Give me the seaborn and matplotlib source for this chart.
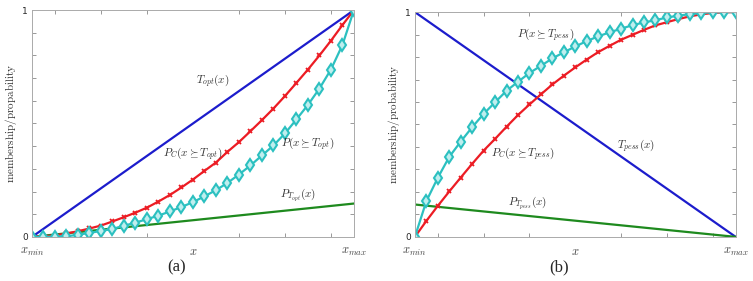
import matplotlib
matplotlib.use("Agg")
import matplotlib.pyplot as plt
import seaborn as sns
import numpy as np

sns.set_style("ticks")
plt.rcParams['mathtext.fontset'] = 'cm'
plt.rcParams['font.family'] = ['DejaVu Sans']

# shared x grid (29 sample points between x_min and x_max)
x_min, x_max = 0.05, 0.75
x_pts = np.linspace(x_min, x_max, 29)
x_ends = [x_min, x_max]

# panel (a): optimistic
t_opt = [0.0, 1.0]
p_t_opt = [0.0, 0.147]
pc_opt = [0, 0.003, 0.006, 0.015, 0.025, 0.037, 0.050, 0.068, 0.087, 0.107,
          0.129, 0.156, 0.185, 0.218, 0.253, 0.291, 0.328, 0.375, 0.418, 0.466,
          0.515, 0.566, 0.621, 0.679, 0.738, 0.800, 0.865, 0.934, 1.0]
p_opt = [0, 0, 0.001, 0.003, 0.009, 0.018, 0.026, 0.035, 0.049, 0.063,
         0.078, 0.094, 0.112, 0.132, 0.153, 0.179, 0.206, 0.238, 0.275, 0.315,
         0.359, 0.403, 0.456, 0.518, 0.582, 0.654, 0.738, 0.846, 1.0]

# panel (b): pessimistic
t_pess = [1.0, 0.0]
p_t_pess = [0.144, 0.0]
p_pess = [0, 0.159, 0.263, 0.356, 0.424, 0.488, 0.547, 0.599, 0.650, 0.690,
          0.729, 0.761, 0.794, 0.821, 0.847, 0.871, 0.892, 0.910, 0.926, 0.942,
          0.954, 0.964, 0.976, 0.984, 0.991, 0.996, 0.999, 1.0, 1.0]
pc_pess = [0, 0.071, 0.138, 0.202, 0.264, 0.325, 0.384, 0.436, 0.490, 0.542,
           0.589, 0.634, 0.678, 0.717, 0.754, 0.789, 0.822, 0.850, 0.877, 0.899,
           0.921, 0.941, 0.955, 0.969, 0.981, 0.990, 0.996, 0.999, 1.0]

blue = '#1c1ccc'
red = '#ec1c24'
cyan = '#2cc0c0'
green = '#1e8a1e'
txt = '#333333'

fig = plt.figure(figsize=(7.53, 2.81), dpi=100)
ax_a = fig.add_axes([0.0425, 0.157, 0.4275, 0.807])
ax_b = fig.add_axes([0.551, 0.157, 0.426, 0.800])


def draw_panel(ax, blue_y, green_y, red_y, cyan_y):
    sns.lineplot(x=x_ends, y=blue_y, ax=ax, color=blue, lw=1.6)
    sns.lineplot(x=x_ends, y=green_y, ax=ax, color=green, lw=1.6)
    sns.lineplot(x=x_pts, y=red_y, ax=ax, color=red, lw=1.6,
                 marker='x', markersize=3.5, markeredgewidth=1.3,
                 markeredgecolor=red)
    sns.lineplot(x=x_pts, y=cyan_y, ax=ax, color=cyan, lw=1.6,
                 marker='d', markersize=6.5, markeredgewidth=1.5,
                 markerfacecolor='#bfeeee', markeredgecolor=cyan)
    ax.set_xlim(x_min, x_max)
    ax.set_ylim(0, 1)
    ax.set_xticks([x_min, 0.4, x_max])
    ax.set_xticklabels([r'$x_{min}$', r'$x$', r'$x_{max}$'], fontsize=9,
                       color='#444444')
    ax.set_xticks(np.arange(0.1, 0.71, 0.1), minor=True)
    ax.set_yticks([0, 1])
    ax.set_yticklabels(['0', '1'], fontsize=6.5)
    ax.set_yticks(np.arange(0.1, 0.91, 0.1), minor=True)
    ax.tick_params(axis='x', which='major', length=0, pad=6)
    ax.tick_params(axis='y', which='major', length=0, pad=3)
    ax.tick_params(which='minor', direction='in', length=3, color='#888888',
                   top=True, right=True, width=0.6)
    for s in ax.spines.values():
        s.set_visible(True)
        s.set_color('#aaaaaa')
        s.set_linewidth(0.7)


draw_panel(ax_a, t_opt, p_t_opt, pc_opt, p_opt)
draw_panel(ax_b, t_pess, p_t_pess, pc_pess, p_pess)

ax_a.set_ylabel(r'$\mathrm{membership/propability}$', fontsize=8, labelpad=2,
                color=txt)
ax_b.set_ylabel(r'$\mathrm{membership/probability}$', fontsize=8, labelpad=2,
                color=txt)

fs = 8
ax_a.text(0.444, 0.688, r'$T_{opt}(x)$', fontsize=fs, ha='center', va='center', color=txt)
ax_a.text(0.40, 0.368, r'$P_C(x \succeq T_{opt})$', fontsize=fs, ha='center', va='center', color=txt)
ax_a.text(0.65, 0.412, r'$P(x \succeq T_{opt})$', fontsize=fs, ha='center', va='center', color=txt)
ax_a.text(0.628, 0.184, r'$P_{T_{opt}}(x)$', fontsize=fs, ha='center', va='center', color=txt)

ax_b.text(0.335, 0.90, r'$P(x \succeq T_{pess})$', fontsize=fs, ha='center', va='center', color=txt)
ax_b.text(0.285, 0.371, r'$P_C(x \succeq T_{pess})$', fontsize=fs, ha='center', va='center', color=txt)
ax_b.text(0.532, 0.405, r'$T_{pess}(x)$', fontsize=fs, ha='center', va='center', color=txt)
ax_b.text(0.295, 0.148, r'$P_{T_{pess}}(x)$', fontsize=fs, ha='center', va='center', color=txt)

fig.text(177 / 753, 1 - 267 / 281, '(a)', fontsize=12, family='Liberation Serif',
         ha='center', va='center')
fig.text(559 / 753, 1 - 267 / 281, '(b)', fontsize=12, family='Liberation Serif',
         ha='center', va='center')

fig.savefig('out.png', dpi=100)
